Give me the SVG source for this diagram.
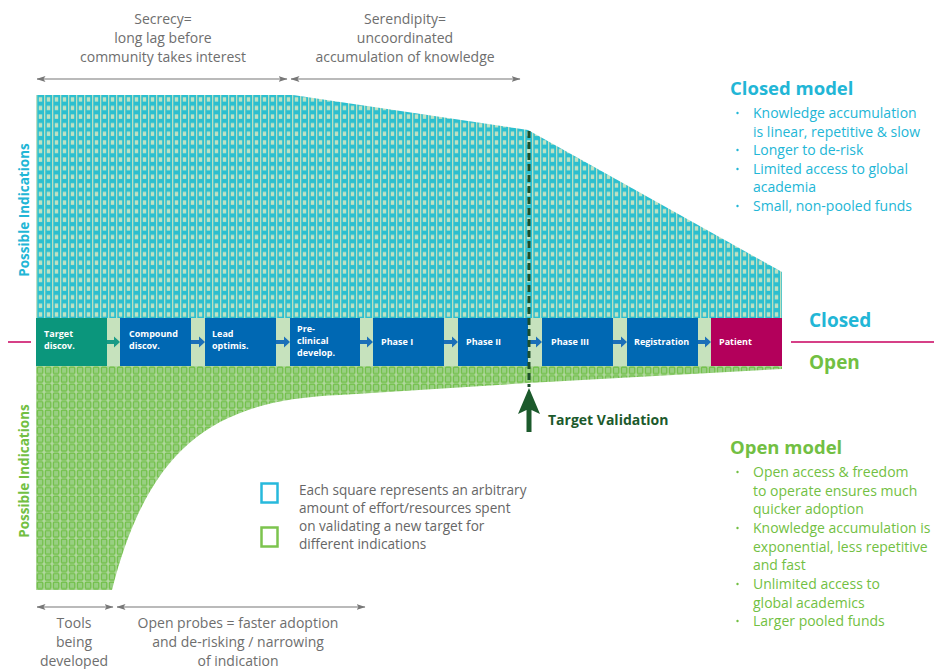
<svg xmlns="http://www.w3.org/2000/svg" width="934" height="669" viewBox="0 0 934 669">
  <style>
    .gray { font-family: "Open Sans", "Noto Sans", sans-serif; font-size: 14px; fill: #6e6e6e; text-anchor: middle; }
    .box-label { font-family: "Open Sans", "Noto Sans", sans-serif; font-size: 9px; font-weight: bold; fill: #ffffff; }
    .side { font-family: "Open Sans", "Noto Sans", sans-serif; font-size: 13.5px; font-weight: bold; text-anchor: middle; }
    .big { font-family: "Open Sans", "Noto Sans", sans-serif; font-size: 19px; font-weight: bold; }
    .title { font-family: "Open Sans", "Noto Sans", sans-serif; font-size: 18.5px; font-weight: bold; }
    .item { font-family: "Open Sans", "Noto Sans", sans-serif; font-size: 14px; }
    .legend { font-family: "Open Sans", "Noto Sans", sans-serif; font-size: 13.6px; fill: #666666; }
    .cyan { fill: #22b6d6; }
    .green { fill: #72bf43; }
    .span { stroke: #777777; stroke-width: 1.2; fill: none; marker-start: url(#tip); marker-end: url(#tip); }
    .blue { fill: #0068b3; }
    .step-arrow { fill: #1b6fb8; }
  </style>
  <defs>
    <!-- closed-model effort squares -->
    <pattern id="sqC" x="36" y="95" width="8" height="8.6" patternUnits="userSpaceOnUse">
      <rect width="8" height="8.6" fill="#2cbfcf"/>
      <rect x="0" y="0" width="1.3" height="8.6" fill="#bcdfc1"/>
      <rect x="2.8" y="2.2" width="3.4" height="4.4" fill="#bfe1c2"/>
    </pattern>
    <!-- open-model effort squares -->
    <pattern id="sqG" x="36" y="366" width="8" height="8.6" patternUnits="userSpaceOnUse">
      <rect width="8" height="8.6" fill="#b2d8a0"/>
      <rect x="1.4" y="1.2" width="5.4" height="6.4" rx="1" fill="#98cf82" stroke="#74c14d" stroke-width="1.4"/>
    </pattern>
    <marker id="tip" viewBox="0 0 9 6" refX="8.5" refY="3" markerWidth="9" markerHeight="6" markerUnits="userSpaceOnUse" orient="auto-start-reverse">
      <path d="M0,0 L9,3 L0,6 L2,3 Z" fill="#777777"/>
    </marker>
  </defs>

  <rect width="934" height="669" fill="#ffffff"/>

  <!-- effort areas -->
  <g id="closed-area">
    <path d="M36,95 L293,95 L528,130 L782,272 L782,318 L36,318 Z" fill="url(#sqC)"/>
  </g>
  <g id="open-area">
    <path d="M36,366 L782,366 L782,369 L528,383 L340,395 C220,400 150,440 112,590 L36,590 Z" fill="url(#sqG)"/>
  </g>

  <!-- pipeline band -->
  <rect x="36" y="318" width="746" height="48" fill="#c6e2bd"/>

  <!-- baseline separating closed / open -->
  <g id="divider">
    <line x1="8" y1="342" x2="31" y2="342" stroke="#c8005f" stroke-width="1.5"/>
    <line x1="791" y1="342" x2="934" y2="342" stroke="#c8005f" stroke-width="1.5"/>
  </g>

  <!-- pipeline stages -->
  <g id="stage-target">
    <rect x="36" y="318" width="71" height="48" fill="#0b967c"/>
    <text class="box-label" x="44" y="337">Target</text>
    <text class="box-label" x="44" y="349.4">discov.</text>
  </g>
  <g id="stage-compound">
    <rect class="blue" x="120" y="318" width="71" height="48"/>
    <text class="box-label" x="129" y="337">Compound</text>
    <text class="box-label" x="129" y="349.4">discov.</text>
  </g>
  <g id="stage-lead">
    <rect class="blue" x="205" y="318" width="71" height="48"/>
    <text class="box-label" x="212" y="337">Lead</text>
    <text class="box-label" x="212" y="349.4">optimis.</text>
  </g>
  <g id="stage-preclinical">
    <rect class="blue" x="290" y="318" width="70" height="48"/>
    <text class="box-label" x="297" y="331.5">Pre-</text>
    <text class="box-label" x="297" y="343.9">clinical</text>
    <text class="box-label" x="297" y="356.3">develop.</text>
  </g>
  <g id="stage-phase1">
    <rect class="blue" x="373" y="318" width="71" height="48"/>
    <text class="box-label" x="381" y="345">Phase I</text>
  </g>
  <g id="stage-phase2">
    <rect class="blue" x="458" y="318" width="70" height="48"/>
    <text class="box-label" x="466" y="345">Phase II</text>
  </g>
  <g id="stage-phase3">
    <rect class="blue" x="542" y="318" width="71" height="48"/>
    <text class="box-label" x="551" y="345">Phase III</text>
  </g>
  <g id="stage-registration">
    <rect class="blue" x="627" y="318" width="71" height="48"/>
    <text class="box-label" x="634" y="345">Registration</text>
  </g>
  <g id="stage-patient">
    <rect x="711" y="318" width="71" height="48" fill="#b3005b"/>
    <text class="box-label" x="719" y="345">Patient</text>
  </g>

  <!-- connectors -->
  <g id="connectors">
    <path d="M107,340 L114,340 L114,336.5 L120,342 L114,347.5 L114,344 L107,344 Z" fill="#1a9a86"/>
    <path class="step-arrow" d="M191,340 L199,340 L199,336.5 L205,342 L199,347.5 L199,344 L191,344 Z"/>
    <path class="step-arrow" d="M276,340 L284,340 L284,336.5 L290,342 L284,347.5 L284,344 L276,344 Z"/>
    <path class="step-arrow" d="M360,340 L367,340 L367,336.5 L373,342 L367,347.5 L367,344 L360,344 Z"/>
    <path class="step-arrow" d="M444,340 L452,340 L452,336.5 L458,342 L452,347.5 L452,344 L444,344 Z"/>
    <path class="step-arrow" d="M528,340 L536,340 L536,336.5 L542,342 L536,347.5 L536,344 L528,344 Z"/>
    <path class="step-arrow" d="M613,340 L621,340 L621,336.5 L627,342 L621,347.5 L621,344 L613,344 Z"/>
    <path class="step-arrow" d="M698,340 L705,340 L705,336.5 L711,342 L705,347.5 L705,344 L698,344 Z"/>

    <!-- target validation marker -->
    <line x1="529" y1="131" x2="529" y2="387" stroke="#1c4f2b" stroke-width="3" stroke-dasharray="7 4"/>
    <path d="M529,388 L540,414 L531.5,410 L531.5,432 L526.5,432 L526.5,410 L518,414 Z" fill="#1c5a2c"/>

    <!-- time spans -->
    <line class="span" x1="37" y1="79" x2="287" y2="79"/>
    <line class="span" x1="291" y1="79" x2="520" y2="79"/>
    <line class="span" x1="37" y1="607" x2="113" y2="607"/>
    <line class="span" x1="117" y1="607" x2="365" y2="607"/>
  </g>

  <!-- span captions -->
  <g id="caption-secrecy">
    <text class="gray" x="163" y="24">Secrecy=</text>
    <text class="gray" x="163" y="43">long lag before</text>
    <text class="gray" x="163" y="61.5">community takes interest</text>
  </g>
  <g id="caption-serendipity">
    <text class="gray" x="405" y="24">Serendipity=</text>
    <text class="gray" x="405" y="43">uncoordinated</text>
    <text class="gray" x="405" y="61.5">accumulation of knowledge</text>
  </g>
  <g id="caption-tools">
    <text class="gray" x="74" y="628">Tools</text>
    <text class="gray" x="74" y="647">being</text>
    <text class="gray" x="74" y="666">developed</text>
  </g>
  <g id="caption-probes">
    <text class="gray" x="238" y="628">Open probes = faster adoption</text>
    <text class="gray" x="238" y="647">and de-risking / narrowing</text>
    <text class="gray" x="238" y="666">of indication</text>
  </g>

  <!-- axis labels -->
  <g id="axis-closed">
    <text class="side cyan" transform="translate(29,210) rotate(-90)">Possible Indications</text>
  </g>
  <g id="axis-open">
    <text class="side green" transform="translate(29,471) rotate(-90)">Possible Indications</text>
  </g>

  <g id="label-closed-open">
    <text class="big cyan" x="809" y="327">Closed</text>
    <text class="big green" x="809" y="369">Open</text>
  </g>

  <g id="target-validation">
    <text x="548" y="425" font-family="'Open Sans', 'Noto Sans', sans-serif" font-size="14px" font-weight="bold" fill="#1c5a2c">Target Validation</text>
  </g>

  <!-- legend -->
  <g id="legend">
    <rect x="261.5" y="483.5" width="16" height="19" fill="none" stroke="#27b9dc" stroke-width="2.5"/>
    <rect x="261.5" y="527.5" width="16" height="19" fill="none" stroke="#7cc44e" stroke-width="2.5"/>
    <text class="legend" x="299" y="495">Each square represents an arbitrary</text>
    <text class="legend" x="299" y="513">amount of effort/resources spent</text>
    <text class="legend" x="299" y="531">on validating a new target for</text>
    <text class="legend" x="299" y="549">different indications</text>
  </g>

  <!-- closed model notes -->
  <g id="closed-model" class="cyan">
    <text class="title" x="730" y="95">Closed model</text>
    <circle cx="737.5" cy="113" r="1.2"/>
    <circle cx="737.5" cy="150" r="1.2"/>
    <circle cx="737.5" cy="169" r="1.2"/>
    <circle cx="737.5" cy="206" r="1.2"/>
    <text class="item" x="753" y="118">Knowledge accumulation</text>
    <text class="item" x="753" y="137">is linear, repetitive &amp; slow</text>
    <text class="item" x="753" y="155">Longer to de-risk</text>
    <text class="item" x="753" y="174">Limited access to global</text>
    <text class="item" x="753" y="192">academia</text>
    <text class="item" x="753" y="211">Small, non-pooled funds</text>
  </g>

  <!-- open model notes -->
  <g id="open-model" class="green">
    <text class="title" x="730" y="454">Open model</text>
    <circle cx="737.5" cy="472" r="1.2"/>
    <circle cx="737.5" cy="528" r="1.2"/>
    <circle cx="737.5" cy="584" r="1.2"/>
    <circle cx="737.5" cy="621" r="1.2"/>
    <text class="item" x="753" y="477">Open access &amp; freedom</text>
    <text class="item" x="753" y="496">to operate ensures much</text>
    <text class="item" x="753" y="514">quicker adoption</text>
    <text class="item" x="753" y="533">Knowledge accumulation is</text>
    <text class="item" x="753" y="552">exponential, less repetitive</text>
    <text class="item" x="753" y="570">and fast</text>
    <text class="item" x="753" y="589">Unlimited access to</text>
    <text class="item" x="753" y="608">global academics</text>
    <text class="item" x="753" y="626">Larger pooled funds</text>
  </g>
</svg>
